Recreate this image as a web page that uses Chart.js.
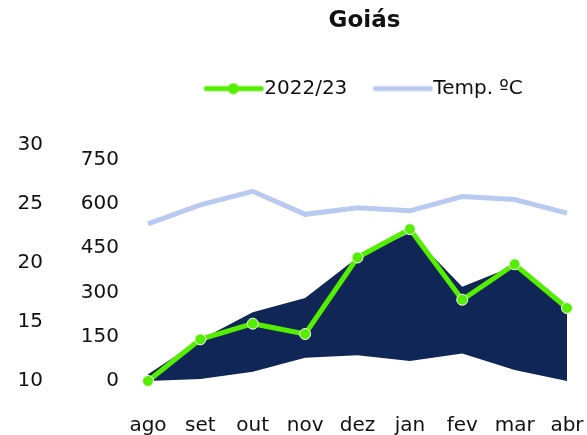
<!DOCTYPE html>
<html>
<head>
<meta charset="utf-8">
<script src="https://cdn.jsdelivr.net/npm/chart.js@4/dist/chart.umd.min.js"></script>
<style>
  html, body { margin: 0; padding: 0; background: #fff; }
  #wrap { width: 587px; height: 435px; position: relative; }
</style>
</head>
<body>
<div id="wrap"><canvas id="chart"></canvas></div>
<script>
"use strict";

const MONTHS = ["ago", "set", "out", "nov", "dez", "jan", "fev", "mar", "abr"];
const RAIN_2022 = [0, 141, 194, 159, 418, 514, 275, 395, 247];
const RANGE_MAX = [23, 140, 233, 281, 418, 502, 319, 390, 250];
const RANGE_MIN = [0, 7, 31, 79, 87, 68, 93, 37, 0];
const TEMP_C = [23.3, 24.9, 26.05, 24.1, 24.65, 24.4, 25.6, 25.35, 24.2];
const RAIN_TICKS = [0, 150, 300, 450, 600, 750];

const GREEN = "#55ee00";
const NAVY = "#0f2657";
const SKY = "#b9caf1";
const FONT = "'DejaVu Sans', sans-serif";
const INK = "#111111";

// legend swatches: a line, optionally with a dot in the middle
function swatch(color, dot) {
  const c = document.createElement("canvas");
  c.width = 62;
  c.height = 12;
  const g = c.getContext("2d");
  g.strokeStyle = color;
  g.lineWidth = 5;
  g.lineCap = "round";
  g.beginPath();
  g.moveTo(4, 6);
  g.lineTo(59, 6);
  g.stroke();
  if (dot) {
    g.fillStyle = color;
    g.beginPath();
    g.arc(31, 6, 5.5, 0, Math.PI * 2);
    g.fill();
  }
  return c;
}
const SWATCH = { "2022/23": swatch(GREEN, true), "Temp. ºC": swatch(SKY, false) };

// extra room between the legend and the plot
const legendGap = {
  id: "legendGap",
  beforeInit(chart) {
    const fit = chart.legend.fit;
    chart.legend.fit = function () {
      fit.call(this);
      this.height += 36;
    };
  },
  // title and legend sit a bit right of the plot centre
  afterLayout(chart) {
    chart.legend.left += 10;
    chart.legend.right += 10;
    chart.titleBlock.left += 7;
    chart.titleBlock.right += 7;
  },
};

const tickFont = { family: FONT, size: 20 };

new Chart(document.getElementById("chart"), {
  type: "line",
  plugins: [legendGap],
  data: {
    labels: MONTHS,
    datasets: [
      {
        label: "2022/23",
        data: RAIN_2022,
        yAxisID: "yP",
        borderColor: GREEN,
        backgroundColor: GREEN,
        borderWidth: 5,
        pointRadius: 5.5,
        pointBackgroundColor: GREEN,
        pointBorderColor: "#ffffff",
        pointBorderWidth: 1,
        tension: 0,
        clip: false,
      },
      {
        label: "Temp. ºC",
        data: TEMP_C,
        yAxisID: "yT",
        borderColor: SKY,
        backgroundColor: SKY,
        borderWidth: 5,
        pointRadius: 0,
        tension: 0,
        clip: false,
      },
      {
        label: "max",
        data: RANGE_MAX,
        yAxisID: "yP",
        borderWidth: 0,
        borderColor: NAVY,
        backgroundColor: NAVY,
        pointRadius: 0,
        fill: "+1",
        tension: 0,
      },
      {
        label: "min",
        data: RANGE_MIN,
        yAxisID: "yP",
        borderWidth: 0,
        borderColor: NAVY,
        backgroundColor: NAVY,
        pointRadius: 0,
        fill: false,
        tension: 0,
      },
    ],
  },
  options: {
    responsive: true,
    maintainAspectRatio: false,
    animation: false,
    layout: { padding: { left: 0, right: 20, top: 5, bottom: 0 } },
    plugins: {
      tooltip: { enabled: false },
      title: {
        display: true,
        fullSize: false,
        text: "Goiás",
        color: INK,
        font: { family: FONT, size: 23, weight: "bold" },
        padding: { top: 2, bottom: 10 },
      },
      legend: {
        fullSize: false,
        labels: {
          color: INK,
          font: tickFont,
          usePointStyle: true,
          pointStyleWidth: 42,
          padding: 34,
          boxHeight: 12,
          filter: (item) => item.text === "2022/23" || item.text === "Temp. ºC",
          generateLabels: (chart) =>
            Chart.defaults.plugins.legend.labels.generateLabels(chart).map((l) => ({
              ...l,
              pointStyle: SWATCH[l.text] || l.pointStyle,
            })),
        },
      },
    },
    scales: {
      x: {
        offset: false,
        grid: { display: false, drawTicks: false },
        border: { display: false },
        ticks: { color: INK, font: tickFont, padding: 33, maxRotation: 0, autoSkip: false },
        afterFit: (s) => {
          s.height = 54;
          s.paddingLeft = 0;
          s.paddingRight = 0;
        },
      },
      yP: {
        position: "left",
        min: 0,
        max: 800,
        grid: { display: false, drawTicks: false },
        border: { display: false },
        afterBuildTicks: (axis) => {
          axis.ticks = RAIN_TICKS.map((v) => ({ value: v }));
        },
        ticks: { color: INK, font: tickFont, padding: 29 },
        afterFit: (s) => { s.width = 95; },
      },
      yT: {
        position: "left",
        min: 10,
        max: 30,
        grid: { display: false, drawTicks: false },
        border: { display: false },
        ticks: { stepSize: 5, color: INK, font: tickFont, padding: 10 },
        afterFit: (s) => { s.width = 53; },
      },
    },
  },
});
</script>
</body>
</html>
